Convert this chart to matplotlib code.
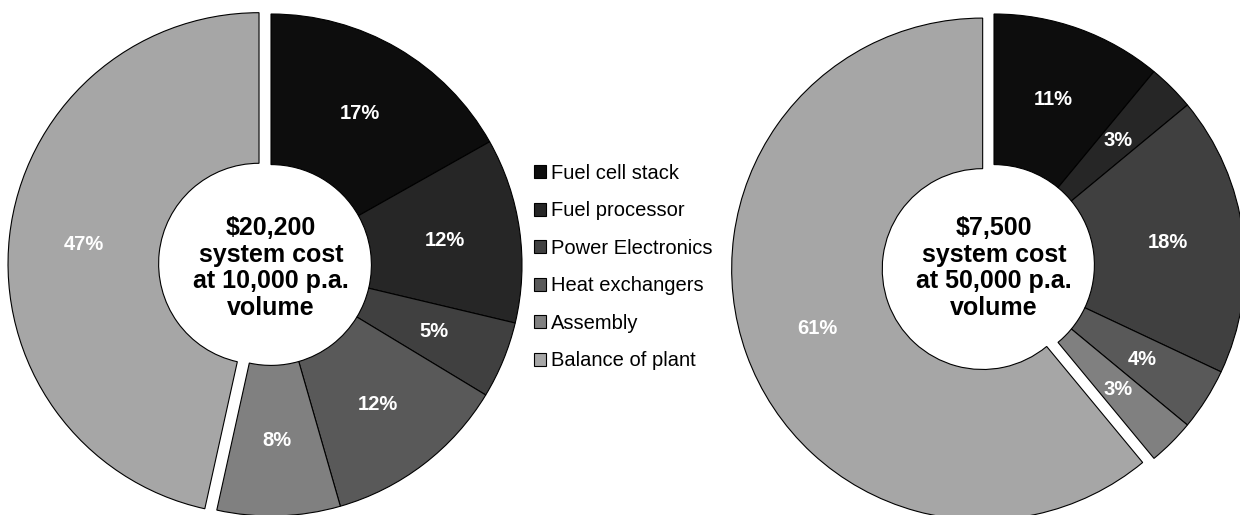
import matplotlib
matplotlib.use("Agg")
import matplotlib.pyplot as plt

plt.rcParams["font.family"] = ["Liberation Sans", "DejaVu Sans"]

# Cost breakdown of the fuel cell system at two production volumes
categories = ["Fuel cell stack", "Fuel processor", "Power Electronics",
              "Heat exchangers", "Assembly", "Balance of plant"]
share_10k = [17, 12, 5, 12, 8, 47]
share_50k = [11, 3, 18, 4, 3, 61]
centre_10k = "$20,200\nsystem cost\nat 10,000 p.a.\nvolume"
centre_50k = "$7,500\nsystem cost\nat 50,000 p.a.\nvolume"

colors = ["#0d0d0d", "#262626", "#404040", "#595959", "#808080", "#a6a6a6"]

W, H = 1240, 515
fig = plt.figure(figsize=(W / 100, H / 100), dpi=100)
fig.patch.set_facecolor("white")

R_PX = 251      # outer radius in pixels
HALF = 270      # half-size of each axes box in pixels


def donut(cx, cy, values, centre_text):
    # cx, cy: pie centre in pixels measured from the top-left corner
    ax = fig.add_axes([(cx - HALF) / W, (H - cy - HALF) / H,
                       2 * HALF / W, 2 * HALF / H])
    explode = [0, 0, 0, 0, 0, 0.048]
    wedges, texts = ax.pie(
        values,
        colors=colors,
        startangle=90,
        counterclock=False,
        explode=explode,
        labels=[f"{v}%" for v in values],
        labeldistance=0.7,
        wedgeprops=dict(width=0.6, edgecolor="black", linewidth=0.8),
        textprops=dict(color="white", fontsize=14.5, fontweight="bold"),
    )
    for t in texts:
        t.set_ha("center")
        t.set_va("center")
    ax.text(0, -0.012, centre_text, ha="center", va="center",
            fontsize=18, fontweight="bold", color="black",
            linespacing=1.15, parse_math=False)
    lim = HALF / R_PX
    ax.set_xlim(-lim, lim)
    ax.set_ylim(-lim, lim)
    ax.set_aspect("equal")
    ax.set_axis_off()
    return wedges


wedges = donut(271, 265, share_10k, centre_10k)
donut(994, 265, share_50k, centre_50k)

fig.legend(
    wedges, categories,
    loc="center left",
    bbox_to_anchor=(534 / W, 1 - 267 / H),
    frameon=False,
    fontsize=14.5,
    handlelength=0.6,
    handleheight=0.6,
    handletextpad=0.22,
    labelspacing=0.92,
    borderpad=0,
    borderaxespad=0,
)

fig.savefig("out.png", dpi=100, facecolor="white")
